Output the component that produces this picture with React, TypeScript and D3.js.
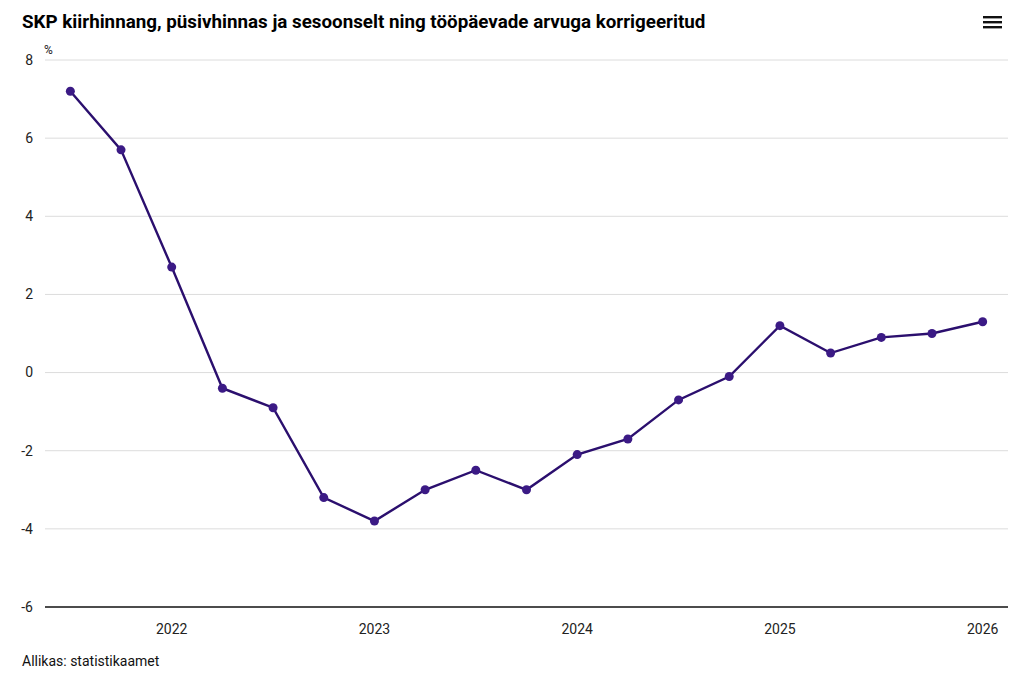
import * as d3 from 'd3';

const quarters = [
  '2021 III', '2021 IV',
  '2022 I', '2022 II', '2022 III', '2022 IV',
  '2023 I', '2023 II', '2023 III', '2023 IV',
  '2024 I', '2024 II', '2024 III', '2024 IV',
  '2025 I', '2025 II', '2025 III', '2025 IV',
  '2026 I',
];
const growth = [7.2, 5.7, 2.7, -0.4, -0.9, -3.2, -3.8, -3.0, -2.5, -3.0, -2.1, -1.7, -0.7, -0.1, 1.2, 0.5, 0.9, 1.0, 1.3];
const yTicks = [-6, -4, -2, 0, 2, 4, 6, 8];
const yearTicks = ['2022 I', '2023 I', '2024 I', '2025 I', '2026 I'];

const width = 1024;
const height = 678;
const marginLeft = 45;
const marginRight = 16;
const marginTop = 60;
const plotBottom = 607;

const font = 'Roboto, "Noto Sans", sans-serif';

export default function App() {
  const x = d3.scalePoint(quarters, [marginLeft, width - marginRight]).padding(0.5);
  const y = d3.scaleLinear([-6, 8], [plotBottom, marginTop]);
  const line = d3
    .line<number>()
    .x((_, i) => x(quarters[i]) ?? 0)
    .y((d) => y(d));

  return (
    <svg
      width={width}
      height={height}
      style={{ position: 'absolute', left: 0, top: 0, fontFamily: font }}
    >
      <rect width={width} height={height} fill="#fff" />
      <text x={22} y={28} fontSize={18.8} fontWeight={700} fill="#000">
        SKP kiirhinnang, püsivhinnas ja sesoonselt ning tööpäevade arvuga korrigeeritud
      </text>
      <g fill="#111">
        {[0, 1, 2].map((i) => (
          <rect key={i} x={983} y={16 + i * 5} width={19} height={2.4} />
        ))}
      </g>
      {yTicks.map((t) => (
        <g key={t}>
          {t !== -6 && (
            <line x1={marginLeft} x2={width - marginRight} y1={y(t)} y2={y(t)} stroke="#dcdcdc" strokeWidth={1} />
          )}
          <text x={33} y={y(t)} dy="0.35em" textAnchor="end" fontSize={14} fill="#222">
            {t}
          </text>
        </g>
      ))}
      <text x={44} y={54} fontSize={12} fill="#222">%</text>
      <line x1={marginLeft} x2={width - marginRight} y1={plotBottom} y2={plotBottom} stroke="#111" strokeWidth={1.6} />
      {yearTicks.map((q) => (
        <text key={q} x={x(q)} y={634} textAnchor="middle" fontSize={14} fill="#222">
          {q.slice(0, 4)}
        </text>
      ))}
      <path d={line(growth) ?? ''} fill="none" stroke="#2b0f6e" strokeWidth={2.4} />
      <g fill="#3b1a85">
        {growth.map((d, i) => (
          <circle key={i} cx={x(quarters[i])} cy={y(d)} r={4.5} />
        ))}
      </g>
      <text x={22} y={666} fontSize={14} fill="#111">Allikas: statistikaamet</text>
    </svg>
  );
}
